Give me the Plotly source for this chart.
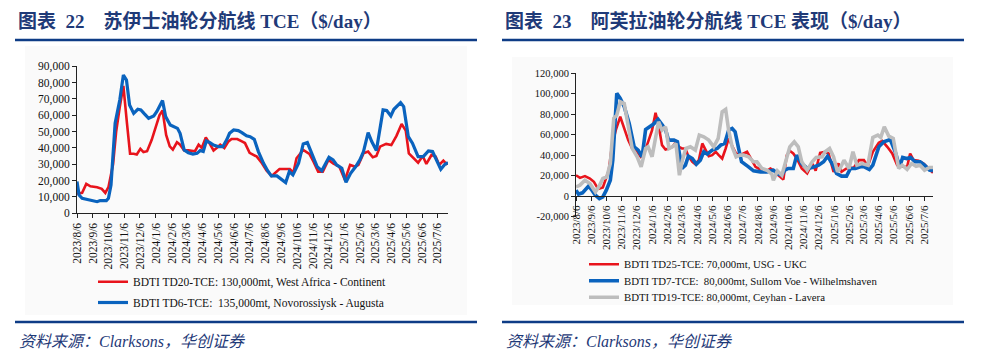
import plotly.graph_objects as go

# ---------------- data: left chart (Suezmax, $/day) ----------------
td20_dates = ["2023-08-06","2023-08-16","2023-08-24","2023-09-01","2023-09-14","2023-09-23","2023-09-30","2023-10-06","2023-10-15","2023-10-21",
              "2023-10-28","2023-11-04","2023-11-11","2023-11-17","2023-11-24","2023-11-30","2023-12-07","2023-12-13","2023-12-20","2023-12-29",
              "2024-01-05","2024-01-13","2024-01-19","2024-01-26","2024-02-02","2024-02-08","2024-02-16","2024-02-22","2024-03-01","2024-03-09",
              "2024-03-22","2024-03-29","2024-04-04","2024-04-12","2024-04-19","2024-04-27","2024-05-03","2024-05-10","2024-05-18","2024-05-26",
              "2024-06-01","2024-06-12","2024-06-21","2024-06-27","2024-07-06","2024-07-13","2024-07-20","2024-07-30","2024-08-08","2024-08-18",
              "2024-08-24","2024-09-02","2024-09-13","2024-09-22","2024-09-29","2024-10-05","2024-10-18","2024-10-30","2024-11-07","2024-11-16",
              "2024-11-25","2024-12-06","2024-12-15","2024-12-27","2025-01-07","2025-01-17","2025-01-26","2025-02-02","2025-02-12","2025-02-21",
              "2025-03-02","2025-03-09","2025-03-16","2025-03-28","2025-04-07","2025-04-17","2025-04-27","2025-05-05","2025-05-11","2025-05-21",
              "2025-05-29","2025-06-07","2025-06-14","2025-06-24","2025-07-02","2025-07-09","2025-07-17","2025-07-23","2025-07-26"]
td20_vals = [12000,12500,18000,16500,16000,15000,12500,16000,30000,50000,
             65000,78000,55000,36500,36500,36000,39500,37500,38000,45000,
             52000,60000,63000,48000,41000,39000,43500,42000,38500,38500,
             38000,42000,40000,46500,43000,38500,40000,42000,40000,44000,
             45500,45500,44000,43000,37000,36100,34700,30600,26100,22900,
             24500,27100,27100,27100,24900,33700,38800,36300,31600,25500,
             25500,32700,30600,28600,20400,29600,28600,29600,36700,37800,
             34300,35100,40800,42500,41800,47400,54700,50600,36700,33700,
             31000,35100,30200,35700,34700,29600,32200,30200,30600]

td6_dates = ["2023-08-06","2023-08-10","2023-08-16","2023-08-25","2023-09-04","2023-09-14","2023-09-20","2023-09-27","2023-10-02","2023-10-06",
             "2023-10-11","2023-10-19","2023-10-28","2023-11-04","2023-11-10","2023-11-16","2023-11-24","2023-12-02","2023-12-08","2023-12-14",
             "2023-12-23","2024-01-02","2024-01-08","2024-01-19","2024-01-25","2024-02-03","2024-02-11","2024-02-17","2024-02-22","2024-03-01",
             "2024-03-09","2024-03-18","2024-03-26","2024-04-01","2024-04-07","2024-04-13","2024-04-20","2024-04-27","2024-05-07","2024-05-15",
             "2024-05-23","2024-05-28","2024-06-05","2024-06-14","2024-06-21","2024-06-30","2024-07-07","2024-07-15","2024-07-23","2024-08-02",
             "2024-08-10","2024-08-17","2024-08-28","2024-09-06","2024-09-14","2024-09-21","2024-09-28","2024-10-09","2024-10-18","2024-10-26",
             "2024-11-05","2024-11-14","2024-11-23","2024-12-07","2024-12-15","2024-12-22","2025-01-01","2025-01-09","2025-01-18","2025-01-28",
             "2025-02-05","2025-02-12","2025-02-21","2025-02-28","2025-03-09","2025-03-22","2025-03-29","2025-04-06","2025-04-12","2025-04-19",
             "2025-04-25","2025-05-01","2025-05-10","2025-05-18","2025-05-29","2025-06-08","2025-06-18","2025-06-26","2025-07-04","2025-07-12",
             "2025-07-20","2025-07-26"]
td6_vals = [19400,11200,9200,8600,8200,7100,7800,7600,7800,9200,
            17300,55100,69400,84700,81600,66300,61200,63700,63300,61200,
            58200,59600,62300,69000,59200,54100,53100,52000,49000,38800,
            37100,36300,36700,38400,37800,44300,43300,41800,40800,40800,
            45300,49000,51000,50600,49400,47400,46900,45300,37800,30600,
            26100,22900,22900,20800,18800,25500,23500,30600,42500,43300,
            35100,28600,26100,34300,32700,29600,27600,19000,24500,28600,
            32700,37800,49400,43900,38400,63300,62900,59600,63700,66300,
            67800,65300,46900,42900,34700,34700,38200,37800,32700,26900,
            30000,31000]

# ---------------- data: right chart (Aframax, $/day) ----------------
td25_dates = ["2023-08-06","2023-08-14","2023-08-24","2023-09-03","2023-09-11","2023-09-17","2023-09-22","2023-09-29","2023-10-04","2023-10-11",
              "2023-10-17","2023-10-25","2023-11-03","2023-11-11","2023-11-19","2023-11-27","2023-12-05","2023-12-14","2023-12-21","2023-12-29",
              "2024-01-06","2024-01-13","2024-01-19","2024-01-26","2024-02-02","2024-02-09","2024-02-16","2024-02-23","2024-02-29","2024-03-06",
              "2024-03-13","2024-03-19","2024-03-27","2024-04-02","2024-04-09","2024-04-16","2024-04-23","2024-04-29","2024-05-06","2024-05-13",
              "2024-05-19","2024-05-26","2024-06-02","2024-06-08","2024-06-16","2024-06-23","2024-07-01","2024-07-08","2024-07-15","2024-07-21",
              "2024-08-01","2024-08-11","2024-08-21","2024-08-31","2024-09-06","2024-09-16","2024-09-26","2024-10-03","2024-10-09","2024-10-16",
              "2024-10-23","2024-11-02","2024-11-13","2024-11-23","2024-11-30","2024-12-09","2024-12-19","2024-12-26","2025-01-05","2025-01-15",
              "2025-01-21","2025-01-31","2025-02-15","2025-02-25","2025-03-07","2025-03-15","2025-03-25","2025-04-06","2025-04-13","2025-04-23",
              "2025-05-03","2025-05-13","2025-05-23","2025-06-02","2025-06-08","2025-06-15","2025-06-25","2025-07-05","2025-07-14","2025-07-24"]
td25_vals = [20500,17900,19600,17300,14000,9100,7500,8500,15600,25400,
             48200,64500,77600,66200,54800,46600,45000,38500,41700,53100,
             64500,81500,69400,49900,45600,46600,48200,53100,48200,46600,
             46600,39100,33600,31300,35200,51500,45000,39100,40100,43400,
             40100,36800,46600,56400,48200,41700,40100,41700,43400,38500,
             28700,26100,23800,27100,25400,20500,16300,40100,44300,41700,
             36800,27100,22200,31900,24800,42400,43400,41700,23800,31900,
             23800,27100,28000,35200,35200,29300,43400,52200,54100,48200,
             41700,30300,28700,28700,41700,35200,34600,31900,27100,22800]

td7_dates = ["2023-08-06","2023-08-11","2023-08-19","2023-08-31","2023-09-07","2023-09-14","2023-09-22","2023-09-29","2023-10-06","2023-10-14",
             "2023-10-19","2023-10-27","2023-11-03","2023-11-11","2023-11-21","2023-12-01","2023-12-09","2023-12-17","2023-12-24","2024-01-01",
             "2024-01-09","2024-01-18","2024-01-26","2024-02-02","2024-02-08","2024-02-19","2024-02-26","2024-03-06","2024-03-13","2024-03-19",
             "2024-03-27","2024-04-04","2024-04-12","2024-04-19","2024-04-26","2024-05-06","2024-05-16","2024-05-23","2024-05-31","2024-06-08",
             "2024-06-15","2024-06-21","2024-06-28","2024-07-04","2024-07-18","2024-07-28","2024-08-11","2024-08-24","2024-09-06","2024-09-16",
             "2024-09-23","2024-09-29","2024-10-06","2024-10-16","2024-10-23","2024-11-02","2024-11-13","2024-11-23","2024-12-06","2024-12-16",
             "2024-12-24","2025-01-02","2025-01-11","2025-01-21","2025-01-31","2025-02-08","2025-02-18","2025-02-28","2025-03-08","2025-03-18",
             "2025-03-25","2025-04-06","2025-04-16","2025-04-29","2025-05-09","2025-05-18","2025-05-24","2025-06-01","2025-06-09","2025-06-18",
             "2025-06-28","2025-07-07","2025-07-17","2025-07-24"]
td7_vals = [5900,2000,3300,9800,5900,1000,-2300,-700,5900,15600,
            35200,100400,95500,87400,71100,48200,45000,38500,65200,67800,
            70400,75000,70400,65200,54800,54800,53100,27100,30300,39100,
            36800,31300,35200,43400,41100,45000,46600,49900,51500,64500,
            66200,62900,46600,33600,28700,24800,23800,23800,25400,21500,
            20500,25400,27100,27100,40100,31900,27100,28000,30300,33600,
            39100,31900,22200,19600,19600,27100,27100,28700,28700,26100,
            30300,48200,53100,55400,43400,28700,37800,36800,37800,33600,
            33600,30300,25400,24800]

td19_dates = ["2023-08-06","2023-08-14","2023-08-24","2023-09-03","2023-09-14","2023-09-21","2023-09-29","2023-10-07","2023-10-14","2023-10-21",
              "2023-10-27","2023-11-03","2023-11-11","2023-11-17","2023-11-27","2023-12-07","2023-12-15","2023-12-24","2023-12-29","2024-01-06",
              "2024-01-13","2024-01-19","2024-01-26","2024-02-02","2024-02-09","2024-02-16","2024-02-23","2024-03-01","2024-03-07","2024-03-14",
              "2024-03-23","2024-04-02","2024-04-10","2024-04-19","2024-04-29","2024-05-09","2024-05-18","2024-05-26","2024-06-02","2024-06-08",
              "2024-06-15","2024-06-23","2024-07-01","2024-07-08","2024-07-18","2024-07-28","2024-08-04","2024-08-14","2024-08-24","2024-09-03",
              "2024-09-06","2024-09-14","2024-09-23","2024-09-29","2024-10-09","2024-10-18","2024-10-26","2024-11-02","2024-11-13","2024-11-23",
              "2024-12-01","2024-12-13","2024-12-19","2024-12-28","2025-01-05","2025-01-13","2025-01-18","2025-01-26","2025-02-05","2025-02-13",
              "2025-02-21","2025-03-03","2025-03-15","2025-03-25","2025-04-04","2025-04-10","2025-04-17","2025-04-26","2025-05-05","2025-05-16",
              "2025-05-23","2025-06-02","2025-06-11","2025-06-20","2025-06-28","2025-07-07","2025-07-17","2025-07-24"]
td19_vals = [9100,10800,15600,12400,4200,9100,17300,18900,31900,76000,
             79200,92300,90600,74300,46600,38500,28700,46600,48200,38500,
             54800,72700,64500,67800,46600,48200,51500,20500,35200,46600,
             48200,45000,59700,58000,54800,48200,56400,82500,84800,64500,
             48200,38500,40100,40100,38500,33600,33600,27100,25400,21500,
             15600,24800,20500,31900,48200,53100,48200,33600,25400,33600,
             37800,38500,43400,46600,38500,23800,27100,35200,27100,43400,
             30300,31900,30300,57400,59700,57400,67800,58700,56400,27100,
             30300,26100,31900,29300,30300,25400,28000,28000]

# ---------------- axis ticks / labels ----------------
month_ticks = ["2023-08-06","2023-09-06","2023-10-06","2023-11-06","2023-12-06","2024-01-06","2024-02-06","2024-03-06",
               "2024-04-06","2024-05-06","2024-06-06","2024-07-06","2024-08-06","2024-09-06","2024-10-06","2024-11-06",
               "2024-12-06","2025-01-06","2025-02-06","2025-03-06","2025-04-06","2025-05-06","2025-06-06","2025-07-06"]
month_labels = ["2023/8/6","2023/9/6","2023/10/6","2023/11/6","2023/12/6","2024/1/6","2024/2/6","2024/3/6",
                "2024/4/6","2024/5/6","2024/6/6","2024/7/6","2024/8/6","2024/9/6","2024/10/6","2024/11/6",
                "2024/12/6","2025/1/6","2025/2/6","2025/3/6","2025/4/6","2025/5/6","2025/6/6","2025/7/6"]
left_yticks = [0,10000,20000,30000,40000,50000,60000,70000,80000,90000]
left_ylabels = ["0","10,000","20,000","30,000","40,000","50,000","60,000","70,000","80,000","90,000"]
right_yticks = [-20000,0,20000,40000,60000,80000,100000,120000]
right_ylabels = ["-20,000","0","20,000","40,000","60,000","80,000","100,000","120,000"]

left_names = ["BDTI TD20-TCE: 130,000mt, West Africa - Continent",
              "BDTI TD6-TCE:  135,000mt, Novorossiysk - Augusta"]
right_names = ["BDTI TD25-TCE: 70,000mt, USG - UKC",
               "BDTI TD7-TCE:  80,000mt, Sullom Voe - Wilhelmshaven",
               "BDTI TD19-TCE: 80,000mt, Ceyhan - Lavera"]
titles = ["图表\u00a0\u00a022　苏伊士油轮分航线 TCE（$/day）",
          "图表\u00a0\u00a023　阿芙拉油轮分航线 TCE 表现（$/day）"]
source = "资料来源：Clarksons，华创证券"

# ---------------- styling ----------------
W, H = 987, 364
RED, BLUE, GRAY = "#E8141C", "#0A63BE", "#BDBDBD"
NAVY = "#1F3A78"
RULE = "#0E3C86"
SERIF = "Liberation Serif, Times New Roman, Noto Sans CJK SC, serif"

def fx(p):
    return p / W

def fy(p):
    return 1 - p / H

fig = go.Figure()
fig.add_trace(go.Scatter(x=td20_dates, y=td20_vals, mode="lines", name=left_names[0],
                         line=dict(color=RED, width=2.6), xaxis="x", yaxis="y", legend="legend"))
fig.add_trace(go.Scatter(x=td6_dates, y=td6_vals, mode="lines", name=left_names[1],
                         line=dict(color=BLUE, width=3.2), xaxis="x", yaxis="y", legend="legend2"))
fig.add_trace(go.Scatter(x=td25_dates, y=td25_vals, mode="lines", name=right_names[0],
                         line=dict(color=RED, width=2.6), xaxis="x2", yaxis="y2", legend="legend3"))
fig.add_trace(go.Scatter(x=td7_dates, y=td7_vals, mode="lines", name=right_names[1],
                         line=dict(color=BLUE, width=3.6), xaxis="x2", yaxis="y2", legend="legend4"))
fig.add_trace(go.Scatter(x=td19_dates, y=td19_vals, mode="lines", name=right_names[2],
                         line=dict(color=GRAY, width=3.6), xaxis="x2", yaxis="y2", legend="legend5"))

axis_common = dict(showgrid=False, zeroline=False, showline=True, linecolor="#222", linewidth=1,
                   ticks="outside", ticklen=4, tickcolor="#222", tickwidth=1, automargin=False)

fig.update_layout(
    width=W, height=H, margin=dict(l=0, r=0, t=0, b=0, pad=0, autoexpand=False),
    paper_bgcolor="white", plot_bgcolor="rgba(0,0,0,0)",
    font=dict(family=SERIF, color="#111"),
    xaxis=dict(domain=[fx(77), fx(448)], type="date", range=["2023-08-06", "2025-07-26"],
               tickmode="array", tickvals=month_ticks, ticktext=month_labels, tickangle=-90,
               tickfont=dict(size=11.5, family=SERIF, color="#111"), anchor="y", **axis_common),
    yaxis=dict(domain=[fy(213.3), fy(66.3)], range=[0, 90000], tickmode="array",
               tickvals=left_yticks, ticktext=left_ylabels,
               tickfont=dict(size=11.5, family=SERIF, color="#111"), anchor="x", **axis_common),
    xaxis2=dict(domain=[fx(576), fx(933)], type="date", range=["2023-08-06", "2025-07-24"],
                tickmode="array", tickvals=month_ticks, ticktext=month_labels, tickangle=-90,
                tickfont=dict(size=11, family=SERIF, color="#111"), anchor="free", position=fy(196),
                **axis_common),
    yaxis2=dict(domain=[fy(216.7), fy(73.3)], range=[-20000, 120000], tickmode="array",
                tickvals=right_yticks, ticktext=right_ylabels,
                tickfont=dict(size=10.5, family=SERIF, color="#111"), anchor="x2", **axis_common),
    showlegend=True,
)

legend_common = dict(bgcolor="rgba(0,0,0,0)", borderwidth=0, xanchor="left", yanchor="middle",
                     itemwidth=30, font=dict(family=SERIF, size=11.5, color="#111"))
legend_common_r = dict(legend_common, font=dict(family=SERIF, size=10.8, color="#111"))
fig.update_layout(
    legend=dict(x=fx(93), y=fy(281.8), **legend_common),
    legend2=dict(x=fx(93), y=fy(302.5), **legend_common),
    legend3=dict(x=fx(584), y=fy(264.2), **legend_common_r),
    legend4=dict(x=fx(584), y=fy(280.8), **legend_common_r),
    legend5=dict(x=fx(584), y=fy(297.2), **legend_common_r),
)

# faint chart panels behind each chart
for px0, py0, px1, py1 in [(25, 46, 467, 315), (512, 57, 953, 305)]:
    fig.add_shape(type="rect", xref="paper", yref="paper", layer="below",
                  x0=fx(px0), x1=fx(px1), y0=fy(py1), y1=fy(py0),
                  line=dict(width=0), fillcolor="#FAFAFA")

# title / source texts and rule lines
for x0, x1, title in [(15, 477, titles[0]), (502, 964, titles[1])]:
    fig.add_annotation(text="<b>" + title + "</b>", x=fx(x0 + 1), y=fy(20.5), xref="paper", yref="paper",
                       xanchor="left", yanchor="middle", showarrow=False,
                       font=dict(family=SERIF, size=19, color=NAVY))
    fig.add_annotation(text="<i>" + source + "</i>", x=fx(x0 + 2), y=fy(341.5), xref="paper", yref="paper",
                       xanchor="left", yanchor="middle", showarrow=False,
                       font=dict(family=SERIF, size=16, color=NAVY))
    for yy in (40, 322):
        fig.add_shape(type="line", xref="paper", yref="paper", x0=fx(x0), x1=fx(x1), y0=fy(yy), y1=fy(yy),
                      line=dict(color=RULE, width=2.3))

fig.write_html("out.html", config={"displayModeBar": False},
               post_script="document.body.style.margin='0px';")
